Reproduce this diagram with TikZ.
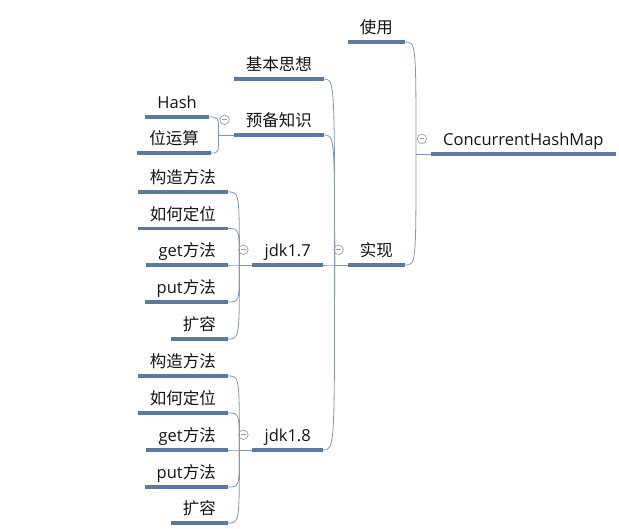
\documentclass[tikz,border=0pt]{standalone}
\usepackage{fontspec}
\setmainfont{Noto Sans CJK SC}
\newfontfamily\latin{Open Sans}
\usetikzlibrary{positioning,calc}
\definecolor{mmline}{RGB}{92,122,155}
\definecolor{mmlink}{RGB}{130,150,172}
\definecolor{mmfold}{RGB}{155,155,155}

\begin{document}
\begin{tikzpicture}[x=1pt,y=-1pt,
  topic/.style={inner xsep=12pt,inner ysep=3pt,text height=13pt,text depth=5pt,font=\fontsize{16.5}{18}\selectfont,text=black!92,anchor=south east},
  uline/.style={line width=3.3pt,mmline},
  link/.style={line width=0.8pt,mmlink},
  fold/.style={circle,draw=mmfold,line width=0.7pt,minimum size=9.5pt,inner sep=0pt,
    path picture={\draw[mmfold,line width=0.7pt] ([xshift=2.3pt]path picture bounding box.west) -- ([xshift=-2.3pt]path picture bounding box.east);}}]
  \useasboundingbox (0,0) rectangle (619,528);
  % Root and its two branches
  \node[topic,anchor=south west] (root) at (431,154) {\latin ConcurrentHashMap};
  \node[topic] (use) at (405,42) {使用};
  \node[topic] (impl) at (405,265) {实现};
  % Branches of the implementation
  \node[topic] (idea) at (324,79) {基本思想};
  \node[topic] (prep) at (324,135) {预备知识};
  \node[topic] (jdk7) at (323,265) {\latin jdk1.7};
  \node[topic] (jdk8) at (323,450) {\latin jdk1.8};
  \node[topic] (hash) at (209,117) {\latin Hash};
  \node[topic] (bits) at (211,153) {位运算};
  % jdk1.7 and jdk1.8 leaves
  \foreach \t/\y [count=\i] in {构造方法/192,如何定位/228.5,{{\latin get}方法}/265,{{\latin put}方法}/302,扩容/339}
    \node[topic] (a\i) at (228,\y) {\t};
  \foreach \t/\y [count=\i] in {构造方法/376,如何定位/413,{{\latin get}方法}/450,{{\latin put}方法}/487,扩容/523}
    \node[topic] (b\i) at (228,\y) {\t};
  % Junctions
  \coordinate (jroot) at ($(root.south west)+(-15,0)$);
  \coordinate (jimpl) at ($(impl.south west)+(-13,0)$);
  \coordinate (jprep) at ($(prep.south west)+(-15,0)$);
  \coordinate (jjdk7) at ($(jdk7.south west)+(-13,0)$);
  \coordinate (jjdk8) at ($(jdk8.south west)+(-13,0)$);
  % Connectors
  \draw[link] (jroot) -- (root.south west);
  \foreach \c in {use,impl}
    \draw[link] (jroot) .. controls (jroot |- \c.south east) .. (\c.south east);
  \draw[link] (jimpl) -- (impl.south west);
  \foreach \c in {idea,prep,jdk7,jdk8}
    \draw[link] (jimpl) .. controls (jimpl |- \c.south east) .. (\c.south east);
  \draw[link] (jprep) -- (prep.south west);
  \foreach \c in {hash,bits}
    \draw[link] (jprep) .. controls (jprep |- \c.south east) .. (\c.south east);
  \draw[link] (jjdk7) -- (jdk7.south west);
  \draw[link] (jjdk8) -- (jdk8.south west);
  \foreach \i in {1,...,5} {
    \draw[link] (jjdk7) .. controls (jjdk7 |- a\i.south east) .. (a\i.south east);
    \draw[link] (jjdk8) .. controls (jjdk8 |- b\i.south east) .. (b\i.south east);
  }
  % Underlines
  \foreach \n in {root,use,impl,idea,prep,jdk7,jdk8,hash,bits,a1,a2,a3,a4,a5,b1,b2,b3,b4,b5}
    \draw[uline] (\n.south west) -- (\n.south east);
  % Fold markers
  \foreach \n in {root,impl,prep,jdk7,jdk8}
    \node[fold] (f\n) at ($(\n.base west)+(-9,-7)$) {};
\end{tikzpicture}
\end{document}
